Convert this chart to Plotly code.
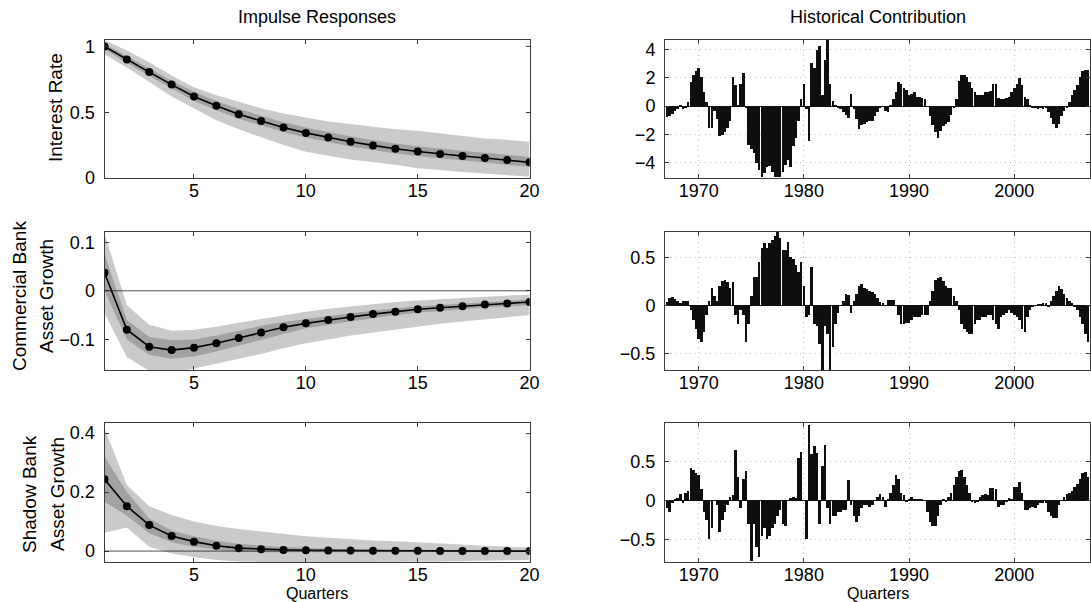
import plotly.graph_objects as go

# ---------------- Impulse responses (quarters 1..20) ----------------
quarters = list(range(1, 21))

ir_rate_med = [1.0, 0.9, 0.805, 0.71, 0.62, 0.55, 0.485, 0.434, 0.384, 0.343, 0.308, 0.275, 0.248, 0.222, 0.202, 0.182, 0.167, 0.152, 0.136, 0.119]
ir_rate_hi90 = [1.05, 0.97, 0.88, 0.78, 0.69, 0.63, 0.58, 0.53, 0.49, 0.46, 0.43, 0.41, 0.39, 0.37, 0.36, 0.34, 0.32, 0.30, 0.29, 0.275]
ir_rate_lo90 = [0.94, 0.84, 0.73, 0.62, 0.53, 0.44, 0.37, 0.31, 0.25, 0.2, 0.17, 0.14, 0.12, 0.1, 0.075, 0.06, 0.045, 0.03, 0.02, 0.01]
ir_rate_hi68 = [1.02, 0.925, 0.835, 0.74, 0.655, 0.585, 0.525, 0.474, 0.424, 0.383, 0.348, 0.315, 0.288, 0.262, 0.242, 0.222, 0.207, 0.192, 0.176, 0.16]
ir_rate_lo68 = [0.98, 0.875, 0.775, 0.68, 0.585, 0.515, 0.45, 0.399, 0.349, 0.308, 0.273, 0.24, 0.213, 0.187, 0.167, 0.147, 0.132, 0.117, 0.101, 0.084]

ir_cb_med = [0.037, -0.08, -0.115, -0.122, -0.117, -0.108, -0.097, -0.086, -0.075, -0.067, -0.06, -0.054, -0.048, -0.043, -0.038, -0.035, -0.032, -0.028, -0.026, -0.023]
ir_cb_hi90 = [0.118, -0.03, -0.07, -0.082, -0.08, -0.074, -0.066, -0.058, -0.05, -0.043, -0.037, -0.032, -0.027, -0.023, -0.02, -0.017, -0.014, -0.012, -0.01, -0.008]
ir_cb_lo90 = [-0.046, -0.136, -0.165, -0.17, -0.16, -0.15, -0.14, -0.13, -0.118, -0.108, -0.1, -0.092, -0.085, -0.079, -0.074, -0.068, -0.063, -0.058, -0.054, -0.05]
ir_cb_hi68 = [0.075, -0.06, -0.095, -0.102, -0.1, -0.092, -0.082, -0.072, -0.064, -0.058, -0.051, -0.046, -0.041, -0.036, -0.032, -0.029, -0.026, -0.023, -0.021, -0.018]
ir_cb_lo68 = [0.0, -0.1, -0.132, -0.14, -0.135, -0.125, -0.113, -0.101, -0.089, -0.077, -0.07, -0.063, -0.056, -0.05, -0.045, -0.041, -0.038, -0.034, -0.032, -0.03]

ir_sb_med = [0.243, 0.152, 0.088, 0.051, 0.032, 0.018, 0.01, 0.006, 0.004, 0.003, 0.002, 0.002, 0.001, 0.001, 0.001, 0.0, 0.0, 0.0, 0.0, 0.0]
ir_sb_hi90 = [0.416, 0.224, 0.152, 0.122, 0.1, 0.085, 0.075, 0.066, 0.058, 0.05, 0.045, 0.04, 0.036, 0.033, 0.03, 0.026, 0.022, 0.018, 0.015, 0.012]
ir_sb_lo90 = [0.062, 0.08, 0.015, -0.008, -0.02, -0.03, -0.035, -0.037, -0.038, -0.038, -0.038, -0.038, -0.038, -0.037, -0.036, -0.035, -0.034, -0.033, -0.032, -0.03]
ir_sb_hi68 = [0.32, 0.2, 0.11, 0.07, 0.05, 0.035, 0.025, 0.018, 0.014, 0.01, 0.008, 0.007, 0.006, 0.005, 0.004, 0.003, 0.003, 0.002, 0.002, 0.002]
ir_sb_lo68 = [0.167, 0.12, 0.06, 0.03, 0.015, 0.005, -0.002, -0.004, -0.005, -0.005, -0.005, -0.005, -0.005, -0.004, -0.004, -0.003, -0.003, -0.003, -0.003, -0.003]

# ---------------- Historical contributions (1967Q1 .. 2007Q1) ----------------
dates = [y + q / 4 for y in range(1967, 2007) for q in range(4)] + [2007.0]

hist_rate = [
    -0.75, -0.7, -0.5, -0.3,    # 1967
    -0.2, 0.1, -0.2, -0.1,      # 1968
    0.3, 1.7, 2.2, 2.5,         # 1969
    2.7, 2.1, 1.0, 0.3,         # 1970
    -1.5, -1.5, -0.3, -0.9,     # 1971
    -2.1, -2.0, -1.8, -1.5,     # 1972
    -1.0, 2.1, 1.5, 0.05,       # 1973
    1.6, 2.4, -0.1, -2.7,       # 1974
    -3.0, -3.3, -4.0, -4.5,     # 1975
    -5.0, -4.7, -4.3, -4.2,     # 1976
    -4.6, -5.0, -5.0, -5.0,     # 1977
    -4.6, -4.1, -3.8, -4.3,     # 1978
    -2.8, -2.2, -1.0, 0.5,      # 1979
    1.6, -0.2, -2.4, 3.1,       # 1980
    2.7, 4.0, 4.3, 0.8,         # 1981
    3.3, 4.7, 1.6, 0.4,         # 1982
    0.1, -0.1, -0.2, -0.4,      # 1983
    -0.6, -0.8, 0.9, -0.2,      # 1984
    -0.9, -1.6, -1.3, -1.2,     # 1985
    -1.1, -1.0, -1.0, -0.7,     # 1986
    -0.4, -0.1, 0.0, -0.3,      # 1987
    -0.4, 0.1, 0.5, 1.0,        # 1988
    1.7, 1.6, 1.3, 1.2,         # 1989
    0.8, 0.9, 1.0, 0.7,         # 1990
    0.7, 0.6, 0.5, 0.0,         # 1991
    -0.7, -1.3, -1.8, -2.2,     # 1992
    -1.7, -1.4, -1.2, -1.1,     # 1993
    -0.6, -0.1, 0.5, 1.8,       # 1994
    2.2, 2.2, 2.1, 1.7,         # 1995
    1.3, 1.0, 0.8, 0.8,         # 1996
    0.8, 1.0, 1.0, 1.1,         # 1997
    1.6, 1.6, 0.6, 0.5,         # 1998
    0.5, 0.6, 0.7, 1.0,         # 1999
    1.3, 1.6, 2.0, 1.5,         # 2000
    0.7, 0.5, 0.1, -0.1,        # 2001
    -0.1, -0.15, -0.1, -0.15,   # 2002
    -0.1, -0.4, -0.8, -1.2,     # 2003
    -1.5, -1.2, -0.7, -0.3,     # 2004
    -0.1, 0.3, 0.8, 1.2,        # 2005
    1.5, 2.1, 2.5, 2.6,         # 2006
    2.6,                        # 2007
]

hist_cb = [
    0.03, 0.08, 0.09, 0.07,     # 1967
    0.05, 0.02, 0.05, 0.05,     # 1968
    0.05, -0.05, -0.15, -0.25,  # 1969
    -0.35, -0.38, -0.28, -0.1,  # 1970
    0.05, 0.18, 0.1, 0.05,      # 1971
    0.2, 0.25, 0.26, 0.24,      # 1972
    0.18, 0.24, -0.1, -0.2,     # 1973
    -0.05, -0.1, -0.38, -0.2,   # 1974
    0.1, 0.3, 0.3, 0.45,        # 1975
    0.6, 0.65, 0.6, 0.65,       # 1976
    0.68, 0.72, 0.77, 0.7,      # 1977
    0.58, 0.58, 0.66, 0.5,      # 1978
    0.48, 0.42, 0.35, 0.45,     # 1979
    0.2, -0.12, -0.1, 0.4,      # 1980
    -0.2, -0.22, -0.4, -0.68,   # 1981
    -0.22, -0.3, -0.68, -0.43,  # 1982
    -0.2, -0.08, 0.0, 0.05,     # 1983
    0.12, 0.11, -0.08, 0.05,    # 1984
    0.12, 0.2, 0.22, 0.18,      # 1985
    0.17, 0.15, 0.14, 0.12,     # 1986
    0.08, 0.03, 0.02, 0.0,      # 1987
    0.06, 0.06, 0.06, 0.0,      # 1988
    -0.1, -0.2, -0.2, -0.18,    # 1989
    -0.18, -0.15, -0.12, -0.12, # 1990
    -0.12, -0.1, -0.1, -0.1,    # 1991
    0.05, 0.15, 0.26, 0.28,     # 1992
    0.3, 0.25, 0.2, 0.18,       # 1993
    0.18, 0.1, 0.05, -0.05,     # 1994
    -0.2, -0.25, -0.28, -0.3,   # 1995
    -0.3, -0.2, -0.15, -0.15,   # 1996
    -0.12, -0.12, -0.1, -0.1,   # 1997
    -0.15, -0.2, -0.25, -0.12,  # 1998
    -0.1, -0.08, -0.05, -0.08,  # 1999
    -0.1, -0.12, -0.15, -0.25,  # 2000
    -0.28, -0.12, -0.05, -0.02, # 2001
    0.0, 0.01, 0.01, 0.02,      # 2002
    0.02, -0.02, 0.05, 0.1,     # 2003
    0.15, 0.2, 0.17, 0.12,      # 2004
    0.08, 0.05, 0.02, -0.02,    # 2005
    -0.05, -0.12, -0.2, -0.3,   # 2006
    -0.38,                      # 2007
]

hist_sb = [
    -0.1, -0.15, -0.03, 0.02,   # 1967
    0.03, 0.08, -0.03, 0.1,     # 1968
    0.12, 0.42, 0.4, 0.35,      # 1969
    0.33, 0.15, -0.15, -0.25,   # 1970
    -0.5, -0.35, 0.0, -0.05,    # 1971
    -0.4, -0.25, -0.15, -0.05,  # 1972
    0.05, 0.07, 0.65, 0.3,      # 1973
    -0.1, 0.28, 0.38, -0.3,     # 1974
    -0.78, -0.3, -0.6, -0.72,   # 1975
    -0.45, -0.35, -0.5, -0.45,  # 1976
    -0.35, -0.3, -0.2, -0.12,   # 1977
    -0.3, -0.32, 0.0, 0.03,     # 1978
    0.05, 0.03, 0.55, 0.63,     # 1979
    0.0, -0.5, 0.98, 0.6,       # 1980
    0.7, 0.62, -0.3, 0.45,      # 1981
    0.72, -0.1, -0.3, -0.2,     # 1982
    -0.2, -0.15, -0.15, -0.12,  # 1983
    -0.12, 0.27, -0.05, -0.2,   # 1984
    -0.28, -0.2, -0.1, -0.05,   # 1985
    -0.05, -0.08, -0.05, 0.0,   # 1986
    0.05, 0.08, 0.05, -0.08,    # 1987
    0.02, 0.1, 0.2, 0.33,       # 1988
    0.28, 0.1, 0.07, -0.02,     # 1989
    0.02, 0.05, 0.02, 0.02,     # 1990
    0.02, 0.02, 0.0, -0.15,     # 1991
    -0.28, -0.32, -0.33, -0.2,  # 1992
    -0.05, 0.02, -0.02, 0.05,   # 1993
    0.1, 0.2, 0.3, 0.38,        # 1994
    0.4, 0.3, 0.2, 0.1,         # 1995
    -0.02, -0.03, -0.02, 0.05,  # 1996
    0.07, 0.08, 0.07, 0.16,     # 1997
    0.16, 0.15, -0.08, -0.05,   # 1998
    -0.05, -0.02, 0.03, 0.02,   # 1999
    0.17, 0.18, 0.24, 0.1,      # 2000
    -0.12, -0.12, -0.1, -0.08,  # 2001
    -0.1, -0.05, -0.03, -0.03,  # 2002
    -0.03, -0.15, -0.2, -0.22,  # 2003
    -0.22, -0.05, 0.0, 0.05,    # 2004
    0.08, 0.1, 0.13, 0.18,      # 2005
    0.22, 0.28, 0.35, 0.37,     # 2006
    0.3,                        # 2007
]

row_labels = [["Interest Rate"], ["Commercial Bank", "Asset Growth"], ["Shadow Bank", "Asset Growth"]]
col_titles = ["Impulse Responses", "Historical Contribution"]
x_title = "Quarters"

left_yranges = [[0, 1.053], [-0.163, 0.121], [-0.037, 0.434]]
left_yticks = [[0, 0.5, 1], [-0.1, 0, 0.1], [0, 0.2, 0.4]]
right_yranges = [[-5.08, 4.7], [-0.675, 0.765], [-0.79, 1.0]]
right_yticks = [[-4, -2, 0, 2, 4], [-0.5, 0, 0.5], [-0.5, 0, 0.5]]
left_xticks = [5, 10, 15, 20]
right_xticks = [1970, 1980, 1990, 2000]

# ---------------- Figure ----------------
W, H = 1091, 602
FONT = "Liberation Sans, Arial, Helvetica, sans-serif"
OUTER = "#cacaca"
INNER = "#a2a2a2"
BAR = "#0e0e0e"
AXC = "#3a3a3a"

left_dom = [104.5 / W, 529.6 / W]
right_dom = [665 / W, 1090 / W]
row_px = [(39.5, 178), (232, 370), (423, 562)]
row_dom = [[(H - b) / H, (H - t) / H] for t, b in row_px]

fig = go.Figure()

ir_sets = [
    (ir_rate_med, ir_rate_hi90, ir_rate_lo90, ir_rate_hi68, ir_rate_lo68),
    (ir_cb_med, ir_cb_hi90, ir_cb_lo90, ir_cb_hi68, ir_cb_lo68),
    (ir_sb_med, ir_sb_hi90, ir_sb_lo90, ir_sb_hi68, ir_sb_lo68),
]
hist_sets = [hist_rate, hist_cb, hist_sb]

layout = {}
shapes = []
for r in range(3):
    kl = 2 * r + 1
    kr = 2 * r + 2
    xl, yl = f"x{kl}", f"y{kl}"
    xr, yr = f"x{kr}", f"y{kr}"
    med, hi90, lo90, hi68, lo68 = ir_sets[r]
    poly_x = quarters + quarters[::-1]
    fig.add_trace(go.Scatter(x=poly_x, y=hi90 + lo90[::-1], fill="toself", fillcolor=OUTER,
                             line=dict(width=0), mode="lines", xaxis=xl, yaxis=yl,
                             hoverinfo="skip", showlegend=False))
    fig.add_trace(go.Scatter(x=poly_x, y=hi68 + lo68[::-1], fill="toself", fillcolor=INNER,
                             line=dict(width=0), mode="lines", xaxis=xl, yaxis=yl,
                             hoverinfo="skip", showlegend=False))
    if r > 0:
        shapes.append(dict(type="line", xref=f"{xl} domain", x0=0, x1=1, yref=yl, y0=0, y1=0,
                           line=dict(color="#222", width=0.8), layer="above"))
    fig.add_trace(go.Scatter(x=quarters, y=med, mode="lines+markers",
                             line=dict(color="black", width=1.6),
                             marker=dict(color="black", size=8), xaxis=xl, yaxis=yl,
                             showlegend=False))
    fig.add_trace(go.Bar(x=dates, y=hist_sets[r], width=0.24, marker=dict(color=BAR, line=dict(width=0)),
                         xaxis=xr, yaxis=yr, showlegend=False))

    common = dict(showline=True, mirror="ticks", linecolor=AXC, linewidth=1, ticks="inside",
                  ticklen=4, tickcolor=AXC, tickfont=dict(family=FONT, size=18, color="black"),
                  showgrid=False, zeroline=False, automargin=False)
    xcommon = dict(common, ticklabelstandoff=-4)
    ycommon = dict(common, ticklabelstandoff=5)
    layout[f"xaxis{kl}"] = dict(xcommon, domain=left_dom, anchor=yl, range=[1, 20],
                                tickvals=left_xticks)
    layout[f"yaxis{kl}"] = dict(ycommon, domain=row_dom[r], anchor=xl, range=left_yranges[r],
                                tickvals=left_yticks[r])
    grid = dict(showgrid=True, gridcolor="#b8b8b8", griddash="1px,4px", gridwidth=1)
    layout[f"xaxis{kr}"] = dict(xcommon, **grid, domain=right_dom, anchor=yr, range=[1966.8, 2007.2],
                                tickvals=right_xticks)
    layout[f"yaxis{kr}"] = dict(ycommon, **grid, domain=row_dom[r], anchor=xr, range=right_yranges[r],
                                tickvals=right_yticks[r])
    layout[f"yaxis{kr}"]["zeroline"] = True
    layout[f"yaxis{kr}"]["zerolinecolor"] = "#111"
    layout[f"yaxis{kr}"]["zerolinewidth"] = 1.2

annotations = []
# column titles and x titles
for txt, cx in zip(col_titles, [317, 877.5]):
    annotations.append(dict(text=txt, x=cx / W, y=(H - 17) / H, xref="paper", yref="paper",
                            xanchor="center", yanchor="middle",
                            showarrow=False, font=dict(family=FONT, size=18, color="black")))
    annotations.append(dict(text=x_title, x=cx / W, y=(H - 593) / H, xref="paper", yref="paper",
                            xanchor="center", yanchor="middle",
                            showarrow=False, font=dict(family=FONT, size=16, color="black")))
# row labels
label_pos = [[(56, 108)], [(19, 296), (46, 296)], [(30, 494), (58, 494)]]
for r in range(3):
    for txt, (px, py) in zip(row_labels[r], label_pos[r]):
        annotations.append(dict(text=txt, x=px / W, y=(H - py) / H, xref="paper", yref="paper",
                                xanchor="center", yanchor="middle",
                                textangle=-90, showarrow=False,
                                font=dict(family=FONT, size=19, color="black")))

fig.update_layout(
    width=W, height=H, margin=dict(l=0, r=0, t=0, b=0, pad=0, autoexpand=False),
    paper_bgcolor="white", plot_bgcolor="white",
    bargap=0, annotations=annotations, shapes=shapes,
    font=dict(family=FONT, color="black"),
    **layout,
)

fig.write_html("out.html", config={"displayModeBar": False},
               post_script="document.body.style.margin='0';document.body.style.padding='0';")
